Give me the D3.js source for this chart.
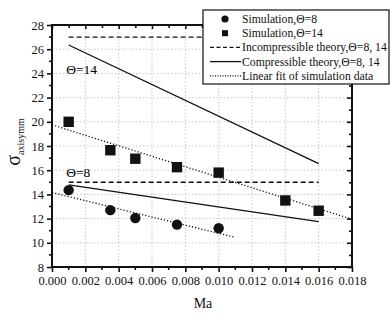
<!DOCTYPE html>
<html>
<head>
<meta charset="utf-8">
<script src="https://cdn.jsdelivr.net/npm/d3@7"></script>
<style>
  body { margin: 0; background: #fff; }
</style>
</head>
<body>
<div id="chart"></div>
<script>
// data
var maSim8 = [0.001, 0.0035, 0.005, 0.0075, 0.010];
var sigmaSim8 = [14.35, 12.7, 12.05, 11.5, 11.2];
var maSim14 = [0.001, 0.0035, 0.005, 0.0075, 0.010, 0.014, 0.016];
var sigmaSim14 = [20.0, 17.65, 16.95, 16.25, 15.8, 13.5, 12.65];
var maTheory = [0.001, 0.016];
var incomp8 = [15, 15];
var incomp14 = [27, 27];
var comp8 = [14.78, 11.75];
var comp14 = [26.35, 16.55];
var maFit8 = [0, 0.011];
var fit8 = [14.15, 10.45];
var maFit14 = [0, 0.018];
var fit14 = [19.75, 11.95];
var xTicks = [0, 0.002, 0.004, 0.006, 0.008, 0.010, 0.012, 0.014, 0.016, 0.018];
var yTicks = [8, 10, 12, 14, 16, 18, 20, 22, 24, 26, 28];
var legendLabels = ['Simulation,\u0398=8', 'Simulation,\u0398=14', 'Incompressible theory,\u0398=8, 14',
  'Compressible theory,\u0398=8, 14', 'Linear fit of simulation data'];

var W = 390, H = 314,
  margin = {top: 25, right: 38, bottom: 47, left: 52},
  width = W - margin.left - margin.right,
  height = H - margin.top - margin.bottom;

var svg = d3.select('#chart').append('svg')
  .attr('width', W).attr('height', H)
  .attr('font-family', 'Liberation Serif');
var g = svg.append('g').attr('transform', 'translate(' + margin.left + ',' + margin.top + ')');

var x = d3.scaleLinear().domain([0, 0.018]).range([0, width]);
var y = d3.scaleLinear().domain([8, 28]).range([height, 0]);

function zip(xs, ys) {
  return xs.map(function (v, i) { return [v, ys[i]]; });
}

// grid
g.append('g').selectAll('line').data(xTicks.slice(1, -1)).enter().append('line')
  .attr('x1', function (d) { return x(d); }).attr('x2', function (d) { return x(d); })
  .attr('y1', 0).attr('y2', height)
  .attr('stroke', '#b8b8d0').attr('stroke-width', 0.8).attr('stroke-dasharray', '1.5,2');
g.append('g').selectAll('line').data(yTicks.slice(1, -1)).enter().append('line')
  .attr('y1', function (d) { return y(d); }).attr('y2', function (d) { return y(d); })
  .attr('x1', 0).attr('x2', width)
  .attr('stroke', '#b8b8d0').attr('stroke-width', 0.8).attr('stroke-dasharray', '1.5,2');

var line = d3.line().x(function (d) { return x(d[0]); }).y(function (d) { return y(d[1]); });

function addLine(xs, ys, dash, sw) {
  g.append('path').datum(zip(xs, ys))
    .attr('d', line).attr('fill', 'none').attr('stroke', '#111')
    .attr('stroke-width', sw).attr('stroke-dasharray', dash);
}

addLine(maTheory, incomp14, '5,3', 1.4);
addLine(maTheory, incomp8, '5,3', 1.4);
addLine(maTheory, comp14, null, 1.3);
addLine(maTheory, comp8, null, 1.3);
addLine(maFit14, fit14, '1.2,2', 1.3);
addLine(maFit8, fit8, '1.2,2', 1.3);

// markers
g.append('g').selectAll('circle').data(zip(maSim8, sigmaSim8)).enter().append('circle')
  .attr('cx', function (d) { return x(d[0]); })
  .attr('cy', function (d) { return y(d[1]); })
  .attr('r', 5.2).attr('fill', '#111');
g.append('g').selectAll('rect').data(zip(maSim14, sigmaSim14)).enter().append('rect')
  .attr('x', function (d) { return x(d[0]) - 5.2; })
  .attr('y', function (d) { return y(d[1]) - 5.2; })
  .attr('width', 10.4).attr('height', 10.4).attr('fill', '#111');

// annotations
g.append('text').attr('x', x(0.001) - 2.5).attr('y', y(23.95)).attr('font-size', 13.5).text('\u0398=14');
g.append('text').attr('x', x(0.001) - 2.5).attr('y', y(15.45)).attr('font-size', 13.5).text('\u0398=8');

// axes
var xMinor = d3.range(0, 0.0185, 0.001);
var yMinor = d3.range(8, 28.5, 1);

var bottomAxis = g.append('g').attr('transform', 'translate(0,' + height + ')')
  .call(d3.axisBottom(x).tickValues(xTicks).tickFormat(d3.format('.3f')).tickSize(5).tickPadding(4));
var topAxis = g.append('g')
  .call(d3.axisBottom(x).tickValues(xMinor).tickFormat('').tickSize(4));
var leftAxis = g.append('g')
  .call(d3.axisLeft(y).tickValues(yTicks).tickSize(5).tickPadding(3));
var rightAxis = g.append('g').attr('transform', 'translate(' + width + ',0)')
  .call(d3.axisLeft(y).tickValues(yMinor).tickFormat('').tickSize(4));

// minor ticks on bottom and left
g.append('g').selectAll('line').data(xMinor.filter(function (d, i) { return i % 2; })).enter().append('line')
  .attr('x1', function (d) { return x(d); }).attr('x2', function (d) { return x(d); })
  .attr('y1', height).attr('y2', height + 3).attr('stroke', '#111').attr('stroke-width', 1.6);
g.append('g').selectAll('line').data(yMinor.filter(function (d, i) { return i % 2; })).enter().append('line')
  .attr('y1', function (d) { return y(d); }).attr('y2', function (d) { return y(d); })
  .attr('x1', 0).attr('x2', -3).attr('stroke', '#111').attr('stroke-width', 1.6);

[bottomAxis, topAxis, leftAxis, rightAxis].forEach(function (a) {
  a.attr('font-family', null).attr('font-size', null);
  a.select('.domain').remove();
  a.selectAll('line').attr('stroke', '#111').attr('stroke-width', 1.6);
  a.selectAll('text').attr('font-size', 12.5).attr('fill', '#111');
});
topAxis.selectAll('.tick line').attr('y2', function (d, i) { return i % 2 ? 3 : 4; });
rightAxis.selectAll('.tick line').attr('x2', function (d, i) { return i % 2 ? -3 : -5; });

g.append('rect').attr('x', 0).attr('y', 0).attr('width', width).attr('height', height)
  .attr('fill', 'none').attr('stroke', '#111').attr('stroke-width', 2);

// axis titles
svg.append('text').attr('x', margin.left + width / 2 + 1).attr('y', 308)
  .attr('text-anchor', 'middle').attr('font-size', 14).attr('fill', '#111').text('Ma');
var yt = svg.append('text').attr('transform', 'translate(20,142) rotate(-90)')
  .attr('text-anchor', 'middle').attr('fill', '#111');
yt.append('tspan').attr('font-size', 20).text('\u03c3');
yt.append('tspan').attr('font-size', 10).attr('dy', 4).text('axisymm');

// legend
var lg = svg.append('g').attr('transform', 'translate(203,10)');
lg.append('rect').attr('width', 186).attr('height', 74)
  .attr('fill', '#fff').attr('stroke', '#111').attr('stroke-width', 1.2);
var rowY = function (i) { return 9 + i * 14.2; };
lg.append('circle').attr('cx', 22).attr('cy', rowY(0)).attr('r', 3.6).attr('fill', '#111');
lg.append('rect').attr('x', 19).attr('y', rowY(1) - 3).attr('width', 6).attr('height', 6).attr('fill', '#111');
[['4,2.5', 1.3], [null, 1.3], ['1,1.5', 1.2]].forEach(function (s, i) {
  lg.append('line').attr('x1', 7).attr('x2', 38).attr('y1', rowY(i + 2)).attr('y2', rowY(i + 2))
    .attr('stroke', '#111').attr('stroke-width', s[1]).attr('stroke-dasharray', s[0]);
});
lg.selectAll('text.lab').data(legendLabels).enter().append('text').attr('class', 'lab')
  .attr('x', 39).attr('y', function (d, i) { return rowY(i) + 4; })
  .attr('font-size', 11.7).attr('fill', '#111').text(function (d) { return d; });
</script>
</body>
</html>
